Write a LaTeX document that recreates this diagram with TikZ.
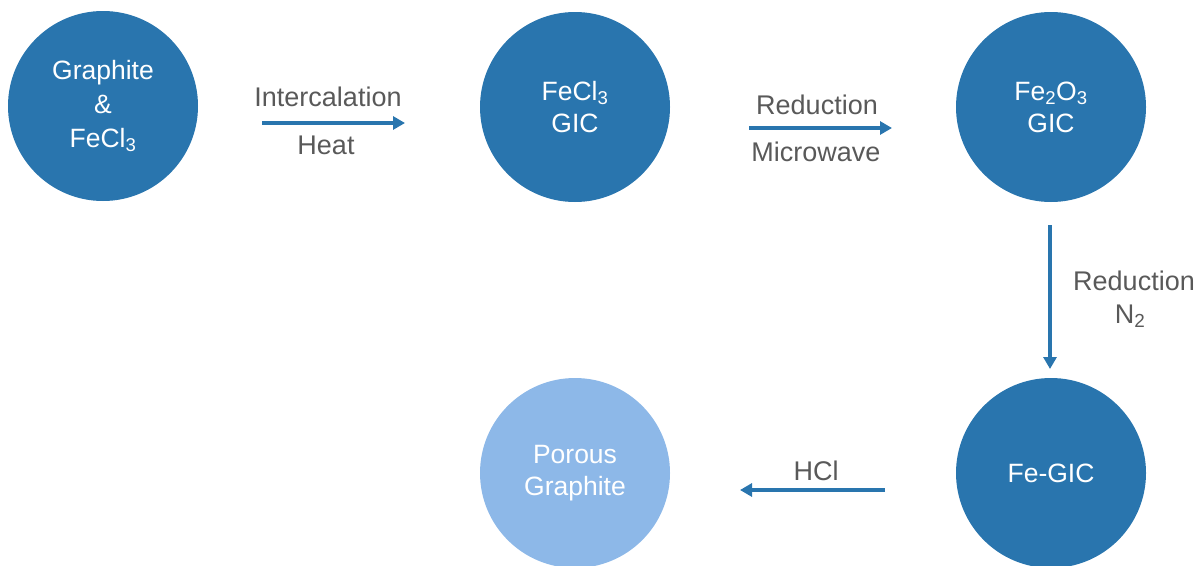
\documentclass[tikz,border=0pt]{standalone}
\usepackage{fontspec}
\setmainfont{Liberation Sans}
\usetikzlibrary{arrows.meta}
\definecolor{dblue}{RGB}{41,117,174}
\definecolor{lblue}{RGB}{141,184,232}
\definecolor{tgray}{RGB}{89,89,89}
\newcommand{\chsub}[1]{\textsubscript{#1}}
\tikzset{
  circ/.style={circle, fill=dblue, draw=none, minimum size=190pt, inner sep=0pt,
    text=white, align=center, font=\fontsize{26.5}{32}\selectfont},
  lcirc/.style={circ, fill=lblue},
  lab/.style={text=tgray, anchor=base, inner sep=0pt, font=\fontsize{27}{33}\selectfont},
  arr/.style={draw=dblue, line width=3.6pt, -{Triangle[length=12pt,width=13pt]}}
}
\begin{document}
\begin{tikzpicture}[x=1pt,y=-1pt]
\useasboundingbox (0,0) rectangle (1201,565);
\node[circ, font=\fontsize{26.5}{34}\selectfont] (c1) at (103,106) {Graphite\\\&\\FeCl\chsub{3}};
\node[circ] (c2) at (575,107) {FeCl\chsub{3}\\GIC};
\node[circ] (c3) at (1051,107) {Fe\chsub{2}O\chsub{3}\\GIC};
\node[circ] (c4) at (1051,473) {Fe-GIC};
\node[lcirc] (c5) at (575,473) {Porous\\Graphite};

\coordinate (a1s) at (262,123); \coordinate (a1e) at (405,123);
\coordinate (a2s) at (749,128); \coordinate (a2e) at (892,128);
\coordinate (a3s) at (1050,225); \coordinate (a3e) at (1050,369);
\coordinate (a4s) at (885,490); \coordinate (a4e) at (740,490);

\draw[arr] (a1s) -- (a1e);
\draw[arr] (a2s) -- (a2e);
\draw[arr] (a3s) -- (a3e);
\draw[arr] (a4s) -- (a4e);

\node[lab] (l1) at (328,106) {Intercalation};
\node[lab] (l2) at (326,154) {Heat};
\node[lab] (l3) at (817,114) {Reduction};
\node[lab] (l4) at (816,161) {Microwave};
\node[lab] (l5) at (1134,290) {Reduction};
\node[lab] (l6) at (1130,323) {N\chsub{2}};
\node[lab] (l7) at (816,480) {HCl};
\end{tikzpicture}
\end{document}
